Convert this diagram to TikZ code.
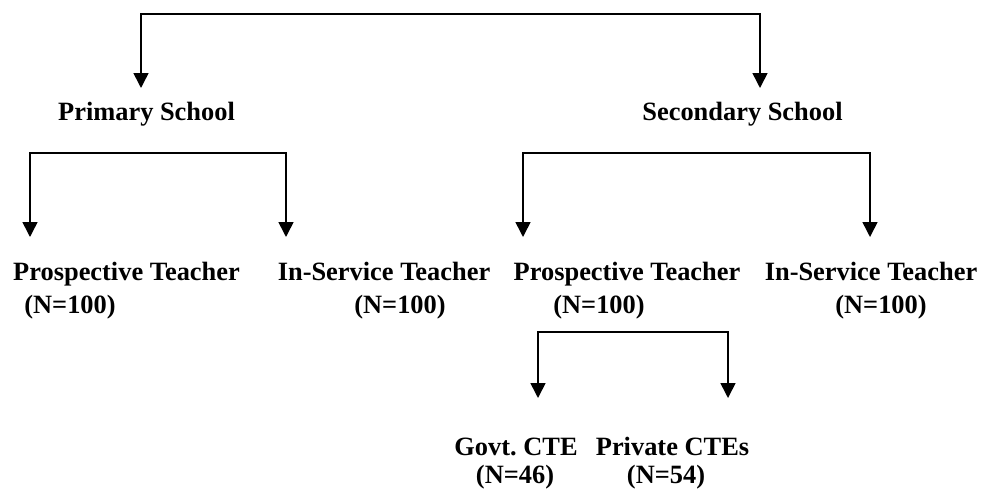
\documentclass[tikz,border=0pt]{standalone}
\usepackage{fontspec}
\setmainfont{Liberation Serif}
\usetikzlibrary{arrows.meta}
\begin{document}
\begin{tikzpicture}[x=1pt,y=-1pt,
  lbl/.style={anchor=base,inner sep=0pt,font=\bfseries\fontsize{26.4}{30}\selectfont},
  conn/.style={line width=1.6pt,{Triangle[width=15pt,length=15pt]}-{Triangle[width=15pt,length=15pt]}}]
\useasboundingbox (0,0) rectangle (984,495);
% nodes
\node[lbl] (ps) at (146.5,120) {Primary School};
\node[lbl] (ss) at (742.5,120) {Secondary School};
\node[lbl] (pt1) at (126.5,280) {Prospective Teacher};
\node[lbl] (pt1n) at (70,313) {(N=100)};
\node[lbl] (is1) at (384,280) {In-Service Teacher};
\node[lbl] (is1n) at (400,313) {(N=100)};
\node[lbl] (pt2) at (627,280) {Prospective Teacher};
\node[lbl] (pt2n) at (599,313) {(N=100)};
\node[lbl] (is2) at (871,280) {In-Service Teacher};
\node[lbl] (is2n) at (881,313) {(N=100)};
\node[lbl] (gc) at (516,455) {Govt.\ CTE};
\node[lbl] (gcn) at (515,483) {(N=46)};
\node[lbl] (pc) at (672.5,455) {Private CTEs};
\node[lbl] (pcn) at (666,483) {(N=54)};
% arrow tip coordinates
\coordinate (tps) at (141,88);
\coordinate (tss) at (760,88);
\coordinate (top) at (450,14);
\coordinate (tpt1) at (30,237);
\coordinate (tis1) at (286,237);
\coordinate (lev1) at (150,153);
\coordinate (tpt2) at (523,237);
\coordinate (tis2) at (870,237);
\coordinate (lev2) at (700,153);
\coordinate (tgc) at (538,398);
\coordinate (tpc) at (728,398);
\coordinate (lev3) at (630,332);
% connectors
\draw[conn] (tps) |- (top) -| (tss);
\draw[conn] (tpt1) |- (lev1) -| (tis1);
\draw[conn] (tpt2) |- (lev2) -| (tis2);
\draw[conn] (tgc) |- (lev3) -| (tpc);
\end{tikzpicture}
\end{document}
